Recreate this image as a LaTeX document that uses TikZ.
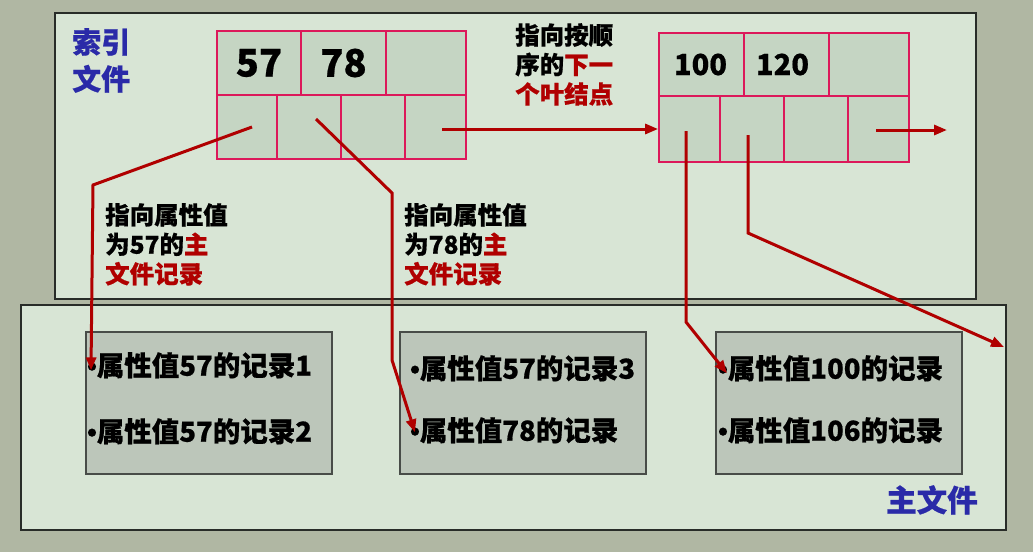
\documentclass[tikz,border=0pt]{standalone}
\usepackage{fontspec}
\setmainfont{Noto Sans CJK SC}[BoldFeatures={FakeBold=0.6}]
\newfontfamily\bulfont{Liberation Sans}[BoldFeatures={FakeBold=0.6}]
\usetikzlibrary{arrows.meta}
\definecolor{bgc}{RGB}{176,183,163}
\definecolor{panelfill}{RGB}{216,229,213}
\definecolor{panelline}{RGB}{40,44,40}
\definecolor{cellfill}{RGB}{197,213,195}
\definecolor{pinkc}{RGB}{220,24,90}
\definecolor{recfill}{RGB}{188,198,186}
\definecolor{redc}{RGB}{176,0,0}
\definecolor{bluec}{RGB}{42,42,168}
\newcommand{\bul}{{\bulfont •}}
\tikzset{
  panel/.style={draw=panelline, line width=1.4pt, fill=panelfill, inner sep=0},
  cell/.style={draw=pinkc, line width=1.8pt, fill=cellfill, inner sep=0},
  recbox/.style={draw=panelline!85, line width=1.4pt, fill=recfill, inner sep=0},
  ptr/.style={draw=redc, line width=3pt, -{Triangle[length=13pt,width=10pt]}},
  bignum/.style={font=\bfseries\fontsize{38}{40}\selectfont},
  midnum/.style={font=\bfseries\fontsize{29}{32}\selectfont},
  lbl/.style={font=\bfseries\fontsize{24.5}{29.5}\selectfont, align=left, inner sep=0, anchor=north west},
  ttl/.style={font=\bfseries\fontsize{29}{37}\selectfont, text=bluec, align=left, inner sep=0, anchor=north west},
  rec/.style={font=\bfseries\fontsize{27.5}{30}\selectfont, inner sep=0, anchor=north west}
}
\begin{document}
\begin{tikzpicture}[x=1pt,y=-1pt]
\fill[bgc] (0,0) rectangle (1033,552);
\useasboundingbox (0,0) rectangle (1033,552);
% panels
\node[panel, minimum width=921pt, minimum height=286pt] (idxpanel) at (515.5,156) {};
\node[panel, minimum width=985pt, minimum height=225pt] (mainpanel) at (513.5,417.5) {};
% index node 1
\node[cell, minimum width=84pt, minimum height=64pt] (a1) at (259,63) {};
\node[cell, minimum width=85pt, minimum height=64pt] (a2) at (343.5,63) {};
\node[cell, minimum width=80pt, minimum height=64pt] (a3) at (426,63) {};
\node[cell, minimum width=60pt, minimum height=64pt] (b1) at (247,127) {};
\node[cell, minimum width=64pt, minimum height=64pt] (b2) at (309,127) {};
\node[cell, minimum width=64pt, minimum height=64pt] (b3) at (373,127) {};
\node[cell, minimum width=61pt, minimum height=64pt] (b4) at (435.5,127) {};
\node[bignum] (n57) at (a1.center) {57};
\node[bignum] (n78) at (a2.center) {78};
% index node 2
\node[cell, minimum width=85pt, minimum height=63pt] (c1) at (701.5,64.5) {};
\node[cell, minimum width=85pt, minimum height=63pt] (c2) at (786.5,64.5) {};
\node[cell, minimum width=80pt, minimum height=63pt] (c3) at (869,64.5) {};
\node[cell, minimum width=61pt, minimum height=66pt] (d1) at (689.5,129) {};
\node[cell, minimum width=64pt, minimum height=66pt] (d2) at (752,129) {};
\node[cell, minimum width=64pt, minimum height=66pt] (d3) at (816,129) {};
\node[cell, minimum width=61pt, minimum height=66pt] (d4) at (878.5,129) {};
\node[midnum] (n100) at ([xshift=-1pt]c1.center) {100};
\node[midnum] (n120) at ([xshift=-4pt]c2.center) {120};
% record boxes
\node[recbox, minimum width=246pt, minimum height=142pt] (ra) at (209,403) {};
\node[recbox, minimum width=246pt, minimum height=142pt] (rb) at (523,403) {};
\node[recbox, minimum width=246pt, minimum height=142pt] (rc) at (839,403) {};
\node[rec] (ra1) at (87,352) {\bul 属性值57的记录1};
\node[rec] (ra2) at (87,418) {\bul 属性值57的记录2};
\node[rec] (rb1) at (410,355) {\bul 属性值57的记录3};
\node[rec] (rb2) at (410,417) {\bul 属性值78的记录};
\node[rec] (rc1) at (718,355) {\bul 属性值100的记录};
\node[rec] (rc2) at (718,417) {\bul 属性值106的记录};
% titles and labels
\node[ttl] (t1) at (72,28) {索引\\文件};
\node[ttl, font=\bfseries\fontsize{30.5}{37}\selectfont] (t2) at (886,485) {主文件};
\node[lbl] (l1) at (105,203) {指向属性值\\为57的{\color{redc}主}\\{\color{redc}文件记录}};
\node[lbl] (l2) at (404,203) {指向属性值\\为78的{\color{redc}主}\\{\color{redc}文件记录}};
\node[lbl] (l3) at (515,23) {指向按顺\\序的{\color{redc}下一}\\{\color{redc}个叶结点}};
% pointers
\coordinate (s1) at (252,127);
\coordinate (s2) at (316,119);
\coordinate (s3) at (442,129);
\coordinate (s4) at (876,130);
\coordinate (s5) at (686,131);
\coordinate (s6) at (748,135);
\coordinate (e4) at (947,130);
\coordinate (e6) at (1004,347);
\draw[ptr] (s1) -- (93,185) -- ([shift={(4pt,-5pt)}]ra1.west);
\draw[ptr] (s2) -- (392,193) -- (392,360) -- ([shift={(5pt,-2pt)}]rb2.west);
\draw[ptr] (s3) -- (d1.west);
\draw[ptr] (s4) -- (e4);
\draw[ptr] (s5) -- (686,322) -- ([shift={(9pt,-5pt)}]rc1.west);
\draw[ptr] (s6) -- (748,233) -- (e6);
\end{tikzpicture}
\end{document}
